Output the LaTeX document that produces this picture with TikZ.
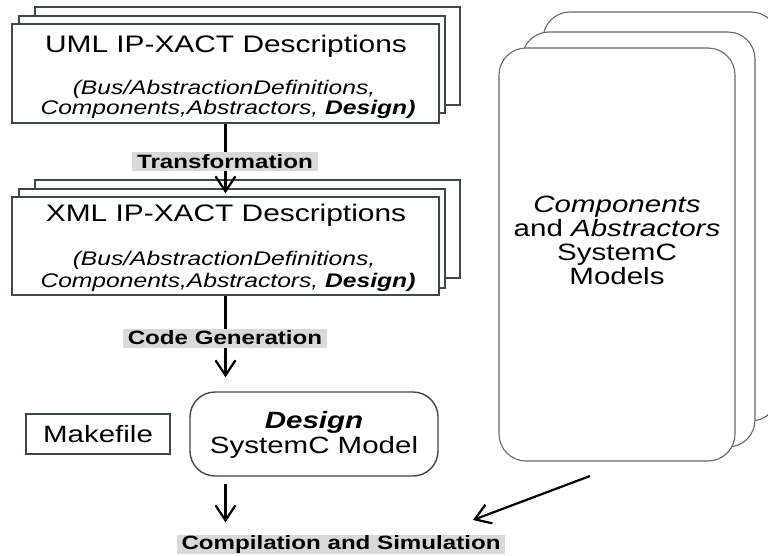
\documentclass[tikz,border=0pt]{standalone}
\usepackage{fontspec}
\setmainfont{Liberation Sans}[FakeStretch=1.25]
\usetikzlibrary{arrows.meta}
\definecolor{boxline}{RGB}{62,72,70}
\definecolor{stackline}{RGB}{100,104,104}
\definecolor{labelbg}{RGB}{217,217,217}
\begin{document}
\begin{tikzpicture}[x=1pt,y=-1pt,
  sheet/.style={draw=boxline, line width=1.4pt, fill=white},
  rsheet/.style={draw=stackline, line width=1.1pt, fill=white, rounded corners=27pt},
  flow/.style={draw=black, line width=2.2pt, -{Straight Barb[length=15pt,width=20pt,line width=2.2pt]}},
  lbl/.style={fill=labelbg, font=\fontsize{19.3}{21}\selectfont\bfseries, inner xsep=5pt, inner ysep=0pt, minimum height=19pt},
  ttl/.style={font=\fontsize{23.9}{26}\selectfont, inner sep=0pt, anchor=base},
  ital/.style={font=\fontsize{19.7}{22}\selectfont\itshape, inner sep=0pt, anchor=base},
  body/.style={font=\fontsize{23.6}{25.5}\selectfont, align=center, inner sep=0pt}
]
\useasboundingbox (0,0) rectangle (768,555);
\fill[white] (0,0) rectangle (768,555);

% right stack
\draw[rsheet] (543,12) rectangle (778,421);
\draw[rsheet] (522,32) rectangle (755,447);
\node[rsheet, minimum width=236pt, minimum height=413pt, inner sep=0pt] (comps) at (617,254.5) {};
\node[body, font=\fontsize{23.6}{24}\selectfont] (compsT) at (617,240) {\textit{Components}\\and \textit{Abstractors}\\SystemC\\Models};

% UML stack
\draw[sheet] (35,7) rectangle (460,105);
\draw[sheet] (19,16) rectangle (445,113);
\node[sheet, minimum width=427pt, minimum height=99pt, inner sep=0pt] (uml) at (225.5,73.5) {};
\node[ttl] (umlT) at (226,52) {UML IP-XACT Descriptions};
\node[ital] (umlA) at (224,94) {(Bus/AbstractionDefinitions,};
\node[ital] (umlB) at (228,114) {Components,Abstractors, \textbf{Design)}};

% XML stack
\draw[sheet] (35,180) rectangle (460,278);
\draw[sheet] (19,189) rectangle (445,288);
\node[sheet, minimum width=427pt, minimum height=98pt, inner sep=0pt] (xml) at (225.5,246) {};
\node[ttl] (xmlT) at (226,221) {XML IP-XACT Descriptions};
\node[ital] (xmlA) at (224,265) {(Bus/AbstractionDefinitions,};
\node[ital] (xmlB) at (228,287) {Components,Abstractors, \textbf{Design)}};

% lower nodes
\node[sheet, rounded corners=25pt, minimum width=248pt, minimum height=84pt, inner sep=0pt] (design) at (314,434) {};
\node[body] (designT) at (314,435) {\textbf{\textit{Design}}\\SystemC Model};
\node[sheet, minimum width=144pt, minimum height=40pt, inner sep=0pt, font=\fontsize{23.6}{25}\selectfont] (make) at (98,434) {Makefile};

% label for compilation
\node[lbl] (comp) at (341,544) {Compilation and Simulation};
\coordinate (designin) at (xml.south |- design.north);
\coordinate (designout) at (xml.south |- design.south);
\coordinate (compin) at (xml.south |- comp.north);
\coordinate (cstart) at (590,476);
\coordinate (cend) at (473,520);

% connectors
\draw[flow, shorten >=3pt] (uml.south) -- (xml.north);
\node[lbl] (trans) at (225,161.5) {Transformation};
\draw[flow, shorten >=14pt] (xml.south) -- (designin);
\node[lbl] (codegen) at (225,338) {Code Generation};
\draw[flow, shorten <=7pt, shorten >=12pt] (designout) -- (compin);
\draw[flow] (cstart) -- (cend);
\end{tikzpicture}
\end{document}
